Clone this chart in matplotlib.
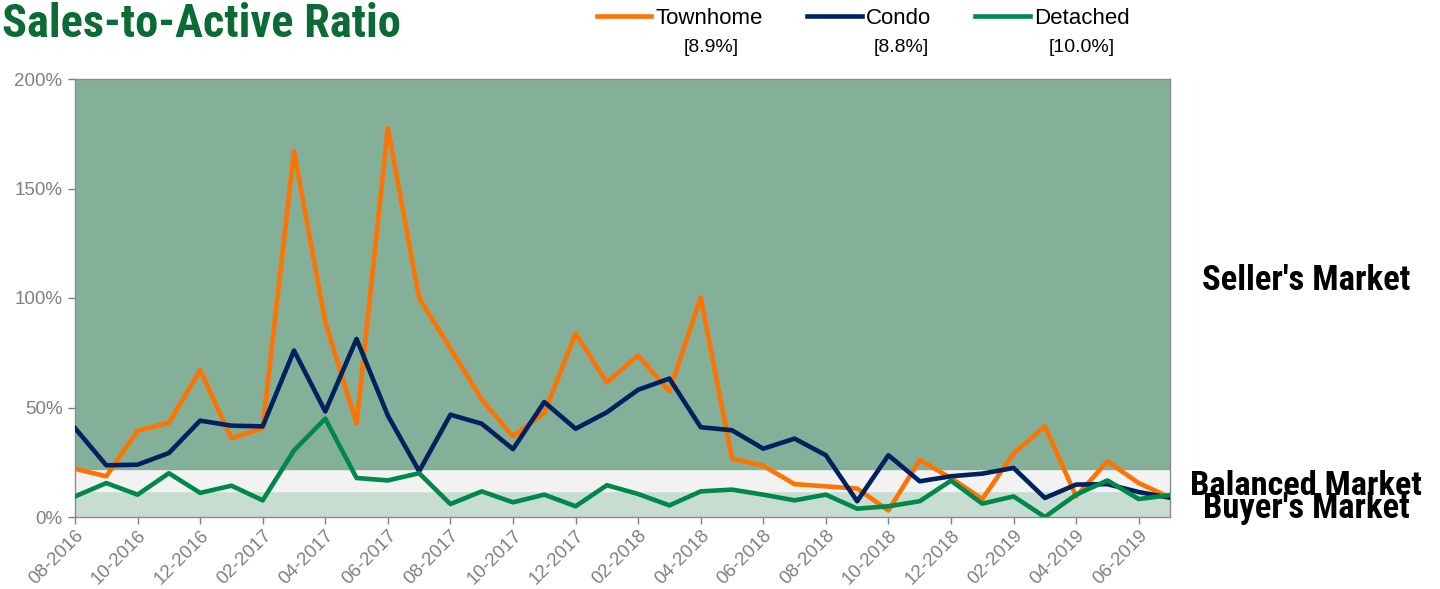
import numpy as np
import matplotlib
matplotlib.use("Agg")
import matplotlib.pyplot as plt
import matplotlib.font_manager as fm
from matplotlib.lines import Line2D

months = ["08-2016", "09-2016", "10-2016", "11-2016", "12-2016", "01-2017",
          "02-2017", "03-2017", "04-2017", "05-2017", "06-2017", "07-2017",
          "08-2017", "09-2017", "10-2017", "11-2017", "12-2017", "01-2018",
          "02-2018", "03-2018", "04-2018", "05-2018", "06-2018", "07-2018",
          "08-2018", "09-2018", "10-2018", "11-2018", "12-2018", "01-2019",
          "02-2019", "03-2019", "04-2019", "05-2019", "06-2019", "07-2019"]

townhome = [22.0, 18.6, 39.4, 43.0, 67.0, 36.0, 40.6, 167.0, 89.0, 42.6, 177.6, 100.0,
            77.0, 53.6, 36.8, 47.5, 83.7, 61.5, 73.7, 57.4, 100.3, 26.6, 23.4, 15.0,
            14.0, 13.0, 3.0, 26.0, 17.8, 8.2, 29.0, 41.4, 9.4, 25.4, 15.5, 8.9]
condo = [40.6, 23.6, 23.9, 29.2, 44.0, 41.7, 41.4, 76.0, 48.2, 81.3, 46.3, 20.9,
         46.7, 42.6, 31.0, 52.5, 40.3, 47.8, 58.1, 63.2, 41.0, 39.6, 31.2, 35.8,
         28.2, 7.2, 28.2, 16.3, 18.6, 19.8, 22.4, 8.7, 14.8, 15.0, 11.4, 8.8]
detached = [9.4, 15.5, 10.2, 20.0, 11.0, 14.3, 7.6, 30.4, 44.9, 17.8, 16.7, 20.0,
            5.9, 11.7, 6.7, 10.2, 4.9, 14.5, 10.5, 5.3, 11.7, 12.5, 10.2, 7.6,
            10.2, 3.8, 4.9, 7.2, 16.6, 6.1, 9.4, 0.0, 10.2, 16.7, 8.2, 10.0]

series = [("Townhome", townhome, "#ff7300", "[8.9%]"),
          ("Condo", condo, "#002060", "[8.8%]"),
          ("Detached", detached, "#00884a", "[10.0%]")]

# market bands (percent)
buyer_top = 12
balanced_top = 22
ymax = 200

# pick a condensed bold face if one is there
bold_faces = {f.name for f in fm.fontManager.ttflist if f.weight in (700, "bold")}
cond = "Liberation Sans"
for cand in ["Roboto Condensed", "Archivo Narrow", "PT Sans Narrow", "Pragati Narrow",
             "Barlow Condensed", "IBM Plex Sans Condensed", "Saira SemiCondensed"]:
    if cand in bold_faces:
        cond = cand
        break
narrow = [cond, 'DejaVu Sans']

plt.rcParams['font.family'] = ['Liberation Sans', 'DejaVu Sans']

W, H = 1440, 589
fig = plt.figure(figsize=(W / 100, H / 100), dpi=100)
ax = fig.add_axes([75 / W, 1 - 517 / H, (1170 - 75) / W, (517 - 79) / H])

x = np.arange(len(months))
ax.axhspan(0, buyer_top, color="#c7ddd2", zorder=0)
ax.axhspan(buyer_top, balanced_top, color="#f2f2f2", zorder=0)
ax.axhspan(balanced_top, ymax, color="#84b09a", zorder=0)

for name, vals, col, _ in series:
    ax.plot(x, vals, color=col, lw=3.3, zorder=3)

ax.set_xlim(0, len(months) - 1)
ax.set_ylim(0, ymax)
ax.set_yticks(np.arange(0, 201, 50))
ax.set_yticklabels([f"{v}%" for v in range(0, 201, 50)])
ax.set_xticks(x[::2])
ax.set_xticklabels(months[::2], rotation=45, ha="right", rotation_mode="anchor")
ax.tick_params(axis="both", colors="#808080", length=5, width=1, labelsize=13.5)
ax.tick_params(axis="y", pad=4)
ax.tick_params(axis="x", pad=2)
for s in ax.spines.values():
    s.set_color("#8c8c8c")
    s.set_linewidth(1)

texts = []
title = fig.text(2 / W, 1 - 37 / H, "Sales-to-Active Ratio", ha="left", va="baseline",
                 fontsize=33, fontweight="bold", family=narrow, color="#0b6b35")
texts.append((title, 400))

# market labels on the right
for label, base, width in [("Seller's Market", 290, 208), ("Balanced Market", 495, 232),
                           ("Buyer's Market", 518, 207)]:
    t = fig.text(1306 / W, 1 - base / H, label, ha="center", va="baseline",
                 fontsize=24, fontweight="bold", family=narrow, color="black")
    texts.append((t, width))

handles = [Line2D([0], [0], color=c, lw=3.3) for _, _, c, _ in series]
fig.legend(handles, [s[0] for s in series], loc="center left",
           bbox_to_anchor=(597 / W, 1 - 18 / H), ncol=3, frameon=False, fontsize=16,
           handlelength=2.45, handletextpad=0.18, columnspacing=2.0,
           borderpad=0, borderaxespad=0)
for xc, (_, _, _, note) in zip([711, 901, 1082], series):
    fig.text(xc / W, 1 - 47 / H, note, ha="center", va="center", fontsize=14)

# squeeze headline texts to the widths they take in the original
fig.canvas.draw()
r = fig.canvas.get_renderer()
for t, target in texts:
    w = t.get_window_extent(r).width
    t.set_fontsize(t.get_fontsize() * target / w)

fig.savefig("out.png", dpi=100)
